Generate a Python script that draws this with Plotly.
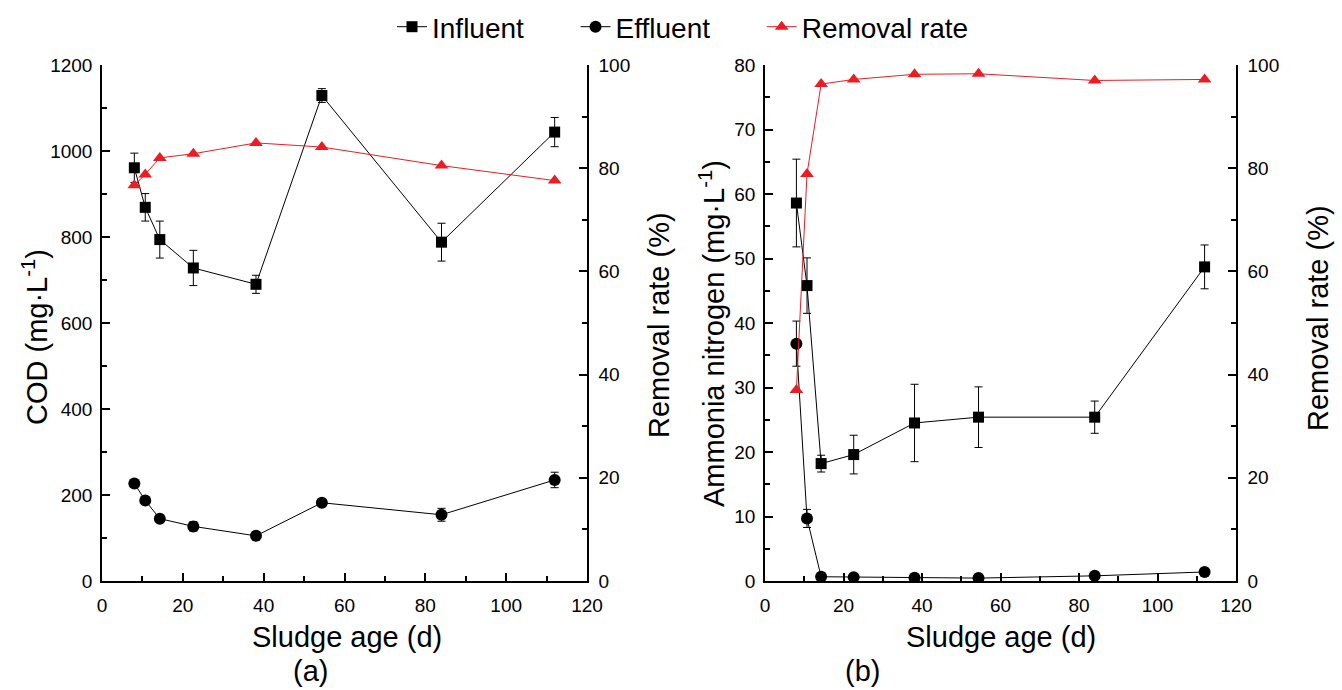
import plotly.graph_objects as go

sludge_age = [8.0, 10.7, 14.3, 22.6, 38.1, 54.4, 84.0, 112.0]

cod_influent = [961, 869, 794, 728, 690, 1129, 788, 1044]
cod_influent_err = [34, 32, 43, 41, 21, 16, 44, 34]
cod_effluent = [227, 187, 145, 127, 105, 182, 154, 235]
cod_effluent_err = [4, 5, 6, 11, 10, 8, 15, 18]
cod_removal = [76.7, 78.8, 82.0, 82.8, 84.9, 84.1, 80.5, 77.6]

nh_influent = [58.6, 45.8, 18.2, 19.6, 24.5, 25.4, 25.4, 48.7]
nh_influent_err = [6.8, 4.3, 1.3, 3.0, 6.0, 4.7, 2.5, 3.4]
nh_effluent = [36.8, 9.7, 0.66, 0.6, 0.5, 0.45, 0.8, 1.4]
nh_effluent_err = [3.5, 1.4, 0.2, 0.2, 0.2, 0.2, 0.2, 0.3]
nh_removal = [37.0, 78.9, 96.3, 97.2, 98.2, 98.3, 97.0, 97.2]

series_names = ["Influent", "Effluent", "Removal rate"]

RED = "#ec1c24"
FONT = "Liberation Sans, Arial, sans-serif"
W, H = 1342, 690
PAD = "\u00a0" * 6  # spacing between legend entries

fig = go.Figure()


def err(vals):
    return dict(type="data", array=vals, visible=True, color="black", thickness=1, width=4)


def add_panel(xa, ya, yr, infl, infl_err, effl, effl_err, rem, legend):
    fig.add_trace(go.Scatter(x=sludge_age, y=infl, error_y=err(infl_err),
                             mode="lines+markers", name=series_names[0] + PAD,
                             showlegend=legend,
                             line=dict(color="black", width=1),
                             marker=dict(symbol="square", size=11, color="black"),
                             xaxis=xa, yaxis=ya))
    fig.add_trace(go.Scatter(x=sludge_age, y=effl, error_y=err(effl_err),
                             mode="lines+markers", name=series_names[1] + PAD,
                             showlegend=legend,
                             line=dict(color="black", width=1),
                             marker=dict(symbol="circle", size=12, color="black"),
                             xaxis=xa, yaxis=ya))
    fig.add_trace(go.Scatter(x=sludge_age, y=rem,
                             mode="lines+markers", name=series_names[2], showlegend=legend,
                             line=dict(color=RED, width=1),
                             marker=dict(symbol="triangle-up", size=12, color=RED),
                             xaxis=xa, yaxis=yr))


add_panel("x", "y", "y2", cod_influent, cod_influent_err, cod_effluent, cod_effluent_err,
          cod_removal, True)
add_panel("x2", "y3", "y4", nh_influent, nh_influent_err, nh_effluent, nh_effluent_err,
          nh_removal, False)

tickfont = dict(family=FONT, size=19, color="black")
titlefont = dict(family=FONT, size=29, color="black")


def axis_common(rng, dtick, minor_dtick, standoff):
    return dict(range=rng, dtick=dtick, tick0=0, showgrid=False, zeroline=False,
                showline=True, linecolor="black", linewidth=1.5, automargin=False,
                ticks="inside", ticklen=8, tickwidth=1.5, tickcolor="black",
                ticklabelstandoff=standoff,
                minor=dict(dtick=minor_dtick, ticks="inside", ticklen=5, tickwidth=1.5,
                           tickcolor="black", showgrid=False),
                tickfont=tickfont, fixedrange=True)


ydom = [1 - 581 / H, 1 - 65 / H]


def px(x):
    return x / W


def py(y):
    return 1 - y / H


def ann(text, x, y, angle=0):
    return dict(text=text, x=px(x), y=py(y), xref="paper", yref="paper", showarrow=False,
                font=titlefont, xanchor="center", yanchor="middle", textangle=angle)


fig.update_layout(
    width=W, height=H,
    margin=dict(l=0, r=0, t=0, b=0, autoexpand=False),
    paper_bgcolor="white", plot_bgcolor="white",
    font=dict(family=FONT, color="black"),
    legend=dict(orientation="h", x=px(392), xanchor="left", y=py(27), yanchor="middle",
                font=dict(family=FONT, size=28, color="black"),
                itemwidth=30, bgcolor="rgba(0,0,0,0)"),
    xaxis=dict(**axis_common([0, 120], 20, 10, 6), domain=[px(102), px(587)], anchor="y"),
    yaxis=dict(**axis_common([0, 1200], 200, 100, 4), domain=ydom, anchor="x"),
    yaxis2=dict(**axis_common([0, 100], 20, 10, 6), overlaying="y", side="right", anchor="x"),
    xaxis2=dict(**axis_common([0, 120], 20, 10, 6), domain=[px(765), px(1236)], anchor="y3"),
    yaxis3=dict(**axis_common([0, 80], 10, 5, 4), domain=ydom, anchor="x2"),
    yaxis4=dict(**axis_common([0, 100], 20, 10, 6), overlaying="y3", side="right", anchor="x2"),
    annotations=[
        ann("Sludge age (d)", 347, 637),
        ann("Sludge age (d)", 1001, 637),
        ann("COD (mg·L<sup>-1</sup>)", 35, 337, -90),
        ann("Removal rate (%)", 659, 325, -90),
        ann("Ammonia nitrogen (mg·L<sup>-1</sup>)", 712, 334, -90),
        ann("Removal rate (%)", 1318, 318, -90),
        ann("(a)", 310, 671),
        ann("(b)", 862, 671),
    ],
)

fig.write_html("out.html")
